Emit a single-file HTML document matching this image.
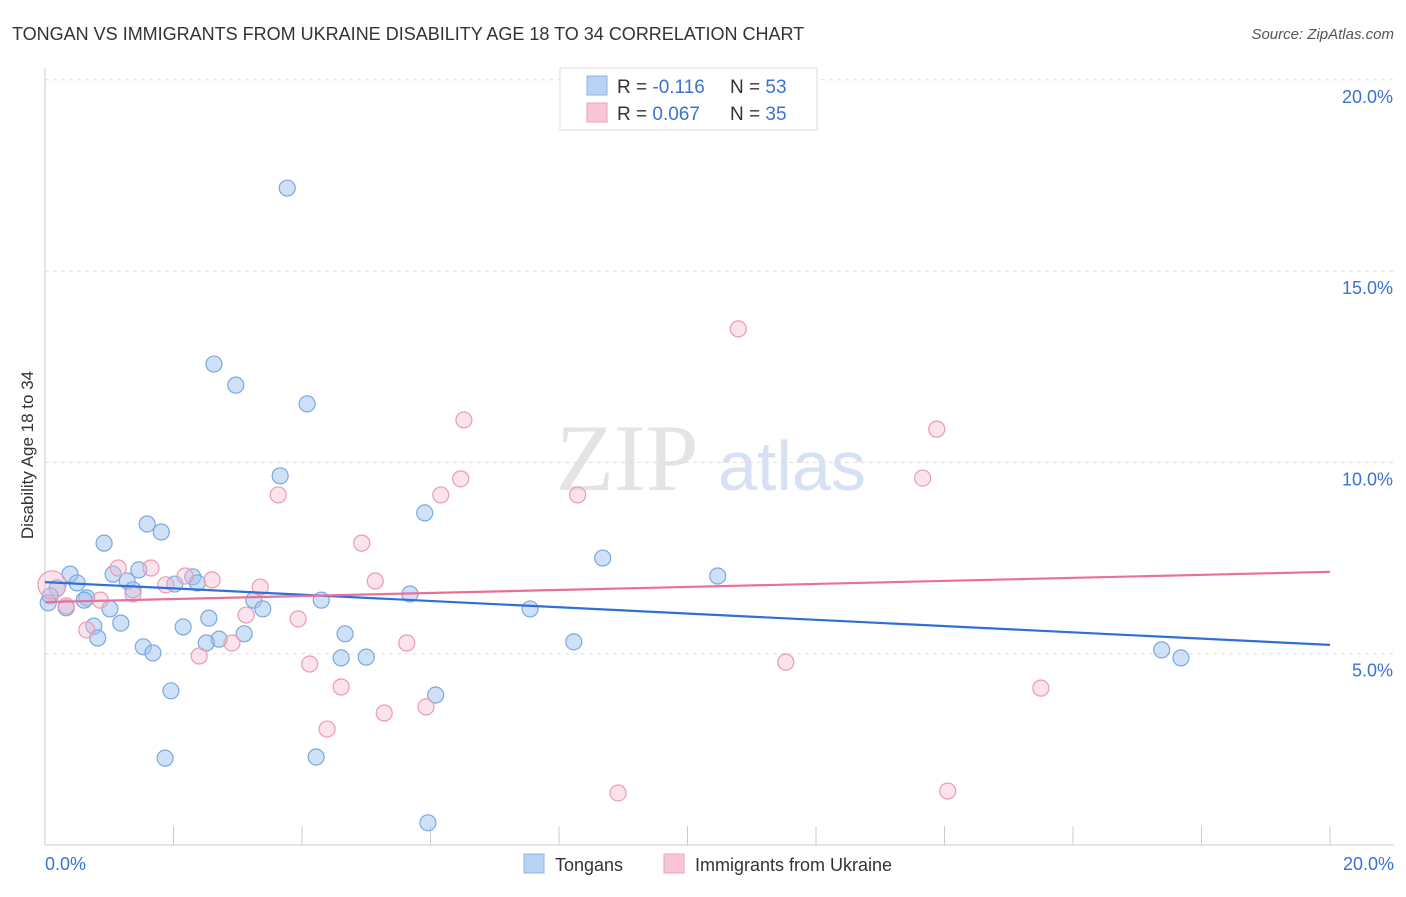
<!DOCTYPE html>
<html><head><meta charset="utf-8"><style>
body{margin:0;background:#fff;font-family:"Liberation Sans",sans-serif}
</style></head><body>
<svg id="c" width="1406" height="892" xmlns="http://www.w3.org/2000/svg">
<text x="12" y="40" font-size="18" fill="#333">TONGAN VS IMMIGRANTS FROM UKRAINE DISABILITY AGE 18 TO 34 CORRELATION CHART</text>
<text x="1394" y="39" font-size="15" fill="#555" font-style="italic" text-anchor="end">Source: ZipAtlas.com</text>
<text x="0" y="0" transform="translate(33,455) rotate(-90)" font-size="17" fill="#333" text-anchor="middle">Disability Age 18 to 34</text>
<text x="556" y="490" font-size="95" fill="#e4e4e4" font-family="Liberation Serif,serif">ZIP</text>
<text x="718" y="490" font-size="70" fill="#d6e2f3">atlas</text>
<g id="grid"></g><g id="pts"></g><g id="lines"></g>
<g>
<rect x="560" y="68" width="257" height="62" fill="#fff" stroke="#ddd"/>
<rect x="587" y="76" width="20" height="19" fill="#b8d2f3" stroke="#8db4e8"/>
<rect x="587" y="103" width="20" height="19" fill="#f9c6d6" stroke="#eba2bb"/>
<text x="617" y="93" font-size="19" fill="#333">R = <tspan fill="#3a72d0">-0.116</tspan><tspan x="730">N = </tspan><tspan fill="#3a72d0">53</tspan></text>
<text x="617" y="120" font-size="19" fill="#333">R = <tspan fill="#3a72d0">0.067</tspan><tspan x="730">N = </tspan><tspan fill="#3a72d0">35</tspan></text>
</g>
<g>
<rect x="524" y="854" width="20" height="19" fill="#b8d2f3" stroke="#8db4e8"/>
<text x="555" y="871" font-size="18" fill="#333">Tongans</text>
<rect x="664" y="854" width="20" height="19" fill="#f9c6d6" stroke="#eba2bb"/>
<text x="695" y="871" font-size="18" fill="#333">Immigrants from Ukraine</text>
</g>
</svg>
<script>
const blueX=[3.77,2.63,2.97,4.08,3.66,5.91,1.59,1.81,0.92,8.68,10.47,0.39,1.06,1.46,2.30,0.50,1.28,2.02,2.37,0.19,0.08,0.65,0.61,1.37,5.68,3.25,4.30,3.39,1.01,0.33,7.55,2.55,1.18,0.76,2.15,4.67,3.10,2.71,2.51,0.82,8.23,1.53,1.68,4.61,5.00,17.38,17.68,1.96,6.08,1.87,4.22,5.96,0.05];
const blueY=[17.17,12.57,12.02,11.53,9.65,8.68,8.39,8.18,7.89,7.50,7.03,7.08,7.08,7.19,7.01,6.85,6.90,6.82,6.85,6.72,6.51,6.46,6.40,6.67,6.56,6.40,6.40,6.17,6.17,6.20,6.17,5.93,5.80,5.72,5.70,5.52,5.52,5.38,5.28,5.41,5.31,5.18,5.02,4.89,4.91,5.10,4.89,4.03,3.92,2.27,2.30,0.58,6.33];
const pinkX=[10.79,6.52,13.88,6.47,13.66,3.63,6.16,8.29,4.93,1.65,1.14,2.18,2.60,1.88,3.35,5.14,1.37,0.86,0.33,3.13,3.94,0.65,2.91,5.63,2.40,4.12,11.53,4.61,15.50,5.28,4.39,5.93,8.92,14.05,0.11];
const pinkY=[13.49,11.11,10.87,9.57,9.59,9.15,9.15,9.15,7.89,7.24,7.24,7.03,6.93,6.80,6.74,6.90,6.56,6.40,6.25,6.01,5.91,5.62,5.28,5.28,4.94,4.73,4.78,4.13,4.10,3.45,3.03,3.61,1.36,1.41,6.80];
const trendBlue=[6.87,5.23];
const trendPink=[6.35,7.14];
const yTicks=[5,10,15,20];
const xTicks=[0,2,4,6,8,10,12,14,16,18,20];
const NS="http://www.w3.org/2000/svg";
const X=v=>45+v/20*1285, Y=v=>845-v*38.26;
function mk(t,a,p){const e=document.createElementNS(NS,t);for(const k in a)e.setAttribute(k,a[k]);p.appendChild(e);return e;}
const g=document.getElementById('grid');
yTicks.forEach(t=>{
 const l=mk('line',{x1:45,x2:1394,y1:Y(t),y2:Y(t),stroke:'#ddd','stroke-dasharray':'4,4'},g);
 
 
 const tx=mk('text',{x:1393,y:Y(t)+23,'font-size':18,fill:'#3a72d0','text-anchor':'end'},g);tx.textContent=t.toFixed(1)+'%';
 
 
});
mk('line',{x1:45,x2:45,y1:68,y2:845,stroke:'#ccc'},g);
mk('line',{x1:45,x2:1394,y1:845,y2:845,stroke:'#ccc'},g);
xTicks.forEach(t=>{const l=mk('line',{x1:X(t),x2:X(t),y1:826,y2:845,stroke:'#ccc'},g);
 
 });
[[0,'start',45],[20,'end',1394]].forEach(([t,a,x])=>{const tx=mk('text',{x:x,y:870,'font-size':18,fill:'#3a72d0','text-anchor':a},g);tx.textContent=t.toFixed(1)+'%';
 
 });
const p=document.getElementById('pts');
blueX.forEach((v,i)=>{const c=mk('circle',{cx:X(v),cy:Y(blueY[i]),r:8,fill:'rgba(160,196,240,0.5)',stroke:'#7aa8e0','stroke-width':1.2},p);
 
 });
pinkX.forEach((v,i)=>{const c=mk('circle',{cx:X(v),cy:Y(pinkY[i]),r:i==pinkX.length-1?14:8,fill:'rgba(246,185,205,0.4)',stroke:'#eb9ab6','stroke-width':1.2},p);
 
 });
const L=document.getElementById('lines');
const b=mk('line',{x1:X(0),x2:X(20),y1:Y(trendBlue[0]),y2:Y(trendBlue[1]),stroke:'#2f6fd6','stroke-width':2.2},L);


const k=mk('line',{x1:X(0),x2:X(20),y1:Y(trendPink[0]),y2:Y(trendPink[1]),stroke:'#e8719c','stroke-width':2.2},L);


</script>
</body></html>
